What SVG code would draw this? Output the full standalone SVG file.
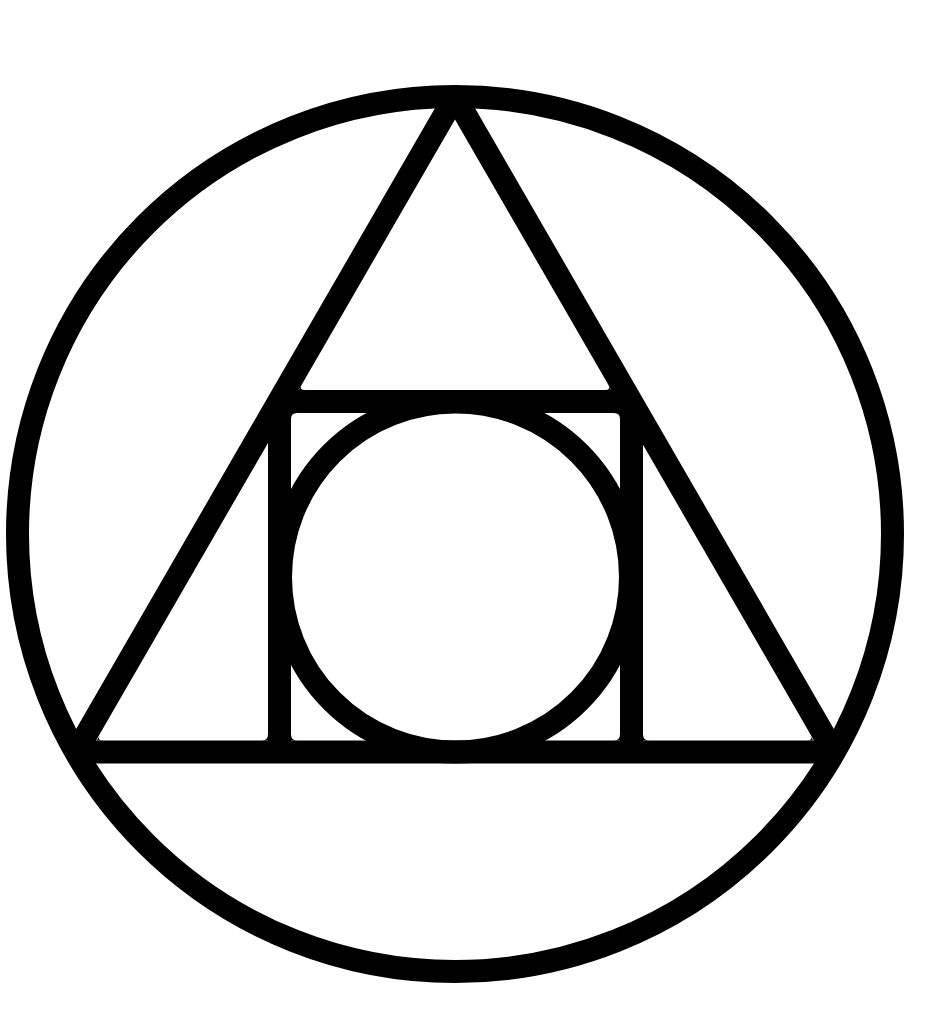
<svg xmlns="http://www.w3.org/2000/svg" width="938" height="1024" viewBox="0 0 938 1024">
  <defs>
    <style>
      .ln { fill: none; stroke: #000; stroke-width: 23; }
      .fl { fill: #000; stroke: none; }
    </style>
    <clipPath id="inside">
      <circle cx="455" cy="534" r="445"/>
    </clipPath>
  </defs>
  <rect width="938" height="1024" fill="#fff"/>
  <g id="outer-circle">
    <circle class="ln" cx="455" cy="534" r="437.5"/>
  </g>
  <g id="triangle" clip-path="url(#inside)">
    <polygon class="ln" stroke-linejoin="round" points="455,96.5 833.9,752 76.1,752"/>
  </g>
  <g id="square">
    <line class="ln" x1="279.5" y1="401.5" x2="630.5" y2="401.5"/>
    <line class="ln" x1="279.5" y1="401" x2="279.5" y2="752"/>
    <line class="ln" x1="631.5" y1="401" x2="631.5" y2="752"/>
  </g>
  <g id="inner-circle">
    <circle class="ln" cx="455.5" cy="577" r="175"/>
  </g>
  <g id="fillets">
    <path class="fl" d="M268,734 Q268,740.5 262,740.5 L268,740.5 Z"/>
    <path class="fl" d="M291,734 Q291,740.5 297,740.5 L291,740.5 Z"/>
    <path class="fl" d="M620,734 Q620,740.5 614,740.5 L620,740.5 Z"/>
    <path class="fl" d="M643,734 Q643,740.5 649,740.5 L643,740.5 Z"/>
    <path class="fl" d="M291,419 Q291,413 297,413 L291,413 Z"/>
    <path class="fl" d="M620,419 Q620,413 614,413 L620,413 Z"/>
    <path class="fl" d="M305,390 Q298.8,390 301.8,384.8 L298.8,390 Z"/>
    <path class="fl" d="M605,390 Q611.2,390 608.2,384.8 L611.2,390 Z"/>
    <path class="fl" d="M103,740.5 Q96.8,740.5 99.8,735.3 L96.8,740.5 Z"/>
    <path class="fl" d="M807,740.5 Q813.2,740.5 810.2,735.3 L813.2,740.5 Z"/>
  </g>
</svg>
